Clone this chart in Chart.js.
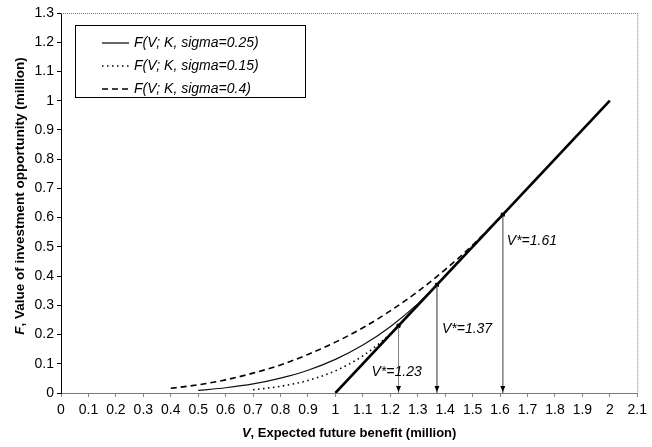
<!DOCTYPE html>
<html>
<head>
<meta charset="utf-8">
<script src="https://cdn.jsdelivr.net/npm/chart.js@4/dist/chart.umd.min.js"></script>
<style>
  html, body { margin: 0; padding: 0; background: #fff; }
  #wrap { width: 652px; height: 447px; }
</style>
</head>
<body>
<div id="wrap"><canvas id="myChart" width="652" height="447"></canvas></div>
<script>
// values (million)
var v25 = [0.5, 0.6, 0.7, 0.8, 0.9, 1.0, 1.1, 1.2, 1.3, 1.37];
var f25 = [0.009, 0.018, 0.031, 0.051, 0.078, 0.115, 0.164, 0.227, 0.305, 0.37];

var v15 = [0.7, 0.8, 0.9, 1.0, 1.1, 1.2, 1.23];
var f15 = [0.011, 0.023, 0.043, 0.076, 0.127, 0.202, 0.23];

var v40 = [0.4, 0.5, 0.6, 0.7, 0.8, 0.9, 1.0, 1.1, 1.2, 1.3, 1.4, 1.5, 1.61];
var f40 = [0.016, 0.028, 0.045, 0.068, 0.096, 0.132, 0.174, 0.223, 0.281, 0.347, 0.422, 0.506, 0.61];

// payoff V - K
var vPay = [1, 2];
var fPay = [0, 1];

// thresholds V*
var vStar = [1.23, 1.37, 1.61];
var fStar = [0.23, 0.37, 0.61];
var starText = ["V*=1.23", "V*=1.37", "V*=1.61"];

var legendLabels = ["F(V; K, sigma=0.25)", "F(V; K, sigma=0.15)", "F(V; K, sigma=0.4)"];
var yTitle = ["F", ", Value of investment opportunity (million)"];
var xTitle = ["V", ", Expected future benefit (million)"];

var FONT = "'Liberation Sans', Arial, sans-serif";

function pts(xs, ys) {
    var out = [];
    for (let i = 0; i < xs.length; i++) out.push({ x: xs[i], y: ys[i] });
    return out;
}

var datasets = [
    { data: pts(v25, f25), borderColor: '#111', borderWidth: 1.2, cubicInterpolationMode: 'monotone' },
    { data: pts(v15, f15), borderColor: '#000', borderWidth: 1.6, borderDash: [1.5, 3.5], cubicInterpolationMode: 'monotone' },
    { data: pts(v40, f40), borderColor: '#000', borderWidth: 1.6, borderDash: [6, 4], cubicInterpolationMode: 'monotone' },
    { data: pts(vPay, fPay), borderColor: '#000', borderWidth: 2.6 }
];
for (let i = 0; i < vStar.length; i++) {
    datasets.push({ data: pts([vStar[i], vStar[i]], [fStar[i], 0]), borderColor: '#8a8a8a', borderWidth: 1 });
}
datasets.push({
    data: pts(vStar, fStar), showLine: false, pointRadius: 2.2, pointStyle: 'rect',
    pointBackgroundColor: '#000', pointBorderColor: '#000'
});
datasets.forEach(d => { if (d.pointRadius === undefined) d.pointRadius = 0; if (d.showLine === undefined) d.showLine = true; d.fill = false; });

var extras = {
    id: 'extras',
    afterDatasetsDraw(chart) {
        var c = chart.ctx, a = chart.chartArea;
        var xs = chart.scales.x, ys = chart.scales.y;
        c.save();
        // dotted top / right frame
        c.strokeStyle = '#777';
        c.lineWidth = 1;
        c.setLineDash([1, 1]);
        c.beginPath();
        c.moveTo(a.left, a.top + 0.5); c.lineTo(a.right + 0.5, a.top + 0.5);
        c.lineTo(a.right + 0.5, a.bottom);
        c.stroke();
        c.setLineDash([]);

        // arrow heads and V* labels
        var labelAt = [0.07, 0.22, 0.52];
        var dx = [-27, 5, 4];
        c.fillStyle = '#000';
        c.font = 'italic 14px ' + FONT;
        c.textBaseline = 'middle';
        c.textAlign = 'left';
        for (let i = 0; i < vStar.length; i++) {
            var px = xs.getPixelForValue(vStar[i]);
            var py = ys.getPixelForValue(0);
            c.beginPath();
            c.moveTo(px - 2.5, py - 7); c.lineTo(px + 2.5, py - 7); c.lineTo(px, py - 1);
            c.closePath(); c.fill();
            c.fillText(starText[i], px + dx[i], ys.getPixelForValue(labelAt[i]));
        }

        // legend box
        c.strokeStyle = '#000';
        c.lineWidth = 1;
        c.strokeRect(75.5, 25.5, 230, 72);
        var dashes = [[], [1.5, 3.5], [6, 4]];
        var widths = [1.2, 1.6, 1.6];
        var rows = [43, 66, 89];
        for (let i = 0; i < legendLabels.length; i++) {
            c.beginPath();
            c.setLineDash(dashes[i]);
            c.lineWidth = widths[i];
            c.moveTo(102, rows[i]); c.lineTo(129, rows[i]);
            c.stroke();
            c.setLineDash([]);
            c.fillText(legendLabels[i], 134, rows[i]);
        }

        // axis titles
        c.textBaseline = 'middle';
        var bi = 'bold italic 13px ' + FONT, b = 'bold 13px ' + FONT;
        c.font = bi; var w1 = c.measureText(xTitle[0]).width;
        c.font = b; var w2 = c.measureText(xTitle[1]).width;
        var cx = (a.left + a.right) / 2 - (w1 + w2) / 2;
        c.font = bi; c.fillText(xTitle[0], cx, 433);
        c.font = b; c.fillText(xTitle[1], cx + w1, 433);

        bi = 'bold italic 13.5px ' + FONT; b = 'bold 13.5px ' + FONT;
        c.save();
        c.translate(20, 196);
        c.rotate(-Math.PI / 2);
        c.font = bi; w1 = c.measureText(yTitle[0]).width;
        c.font = b; w2 = c.measureText(yTitle[1]).width;
        var sx = -(w1 + w2) / 2;
        c.font = bi; c.fillText(yTitle[0], sx, 0);
        c.font = b; c.fillText(yTitle[1], sx + w1, 0);
        c.restore();
        c.restore();
    }
};

var fmt = v => String(+(+v).toFixed(1));

var ctx = document.getElementById('myChart').getContext('2d');
var chart = new Chart(ctx, {
    type: 'scatter',
    data: { datasets: datasets },
    options: {
        responsive: false,
        animation: false,
        layout: { padding: { top: 13, right: 11, left: 0, bottom: 0 } },
        plugins: { legend: { display: false }, tooltip: { enabled: false } },
        scales: {
            x: {
                type: 'linear', min: 0, max: 2.1,
                afterFit: s => { s.height = 54; },
                ticks: { stepSize: 0.1, autoSkip: false, maxRotation: 0, color: '#000', padding: 5,
                         font: { family: FONT, size: 14 }, callback: fmt },
                grid: { drawOnChartArea: false, drawTicks: true, tickLength: 4, color: '#888' },
                border: { color: '#777', dash: [1, 1], width: 1 }
            },
            y: {
                min: 0, max: 1.3,
                afterFit: s => { s.width = 61; },
                ticks: { stepSize: 0.1, color: '#000', padding: 3,
                         font: { family: FONT, size: 14 }, callback: fmt },
                grid: { drawOnChartArea: false, drawTicks: true, tickLength: 4, color: '#000' },
                border: { color: '#000', width: 1 }
            }
        }
    },
    plugins: [extras]
});
</script>
</body>
</html>
